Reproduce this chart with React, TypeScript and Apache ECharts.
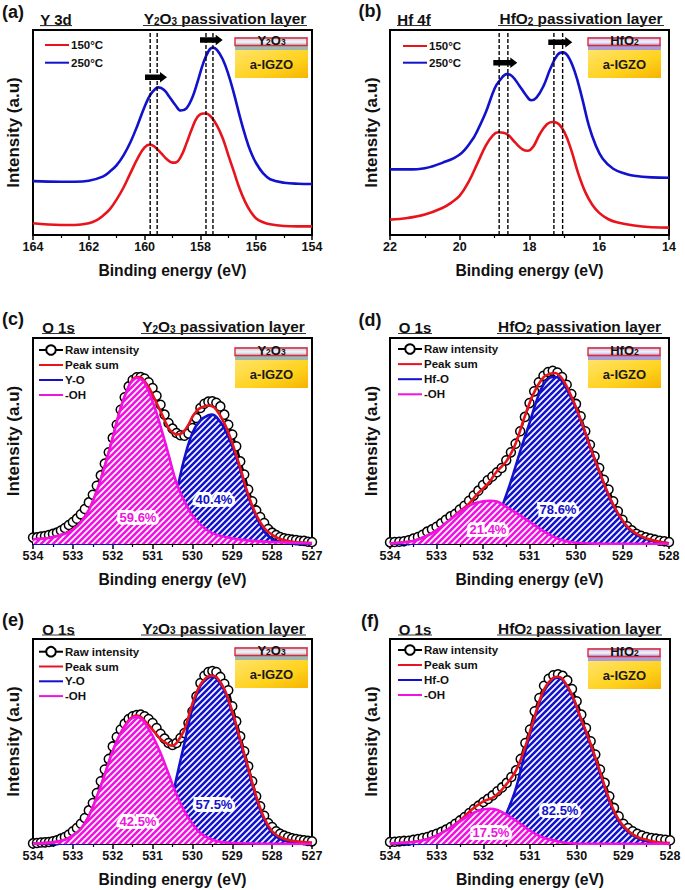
import React, { useEffect, useRef } from "react";
import * as echarts from "echarts";

const FONT = "Liberation Sans";
const RED = "#e8141c";
const BLUE = "#1212cc";
const MAGENTA = "#f012e0";

// Panel (a) Y 3d
const aBlue = [[164,26.3],[163,26.0],[162.5,26.0],[162,26.5],[161.5,28.5],[161.25,30.9],[161,34.1],[160.75,39.0],[160.5,45.5],[160.25,53.7],[160,62.6],[159.8,68.3],[159.6,71.5],[159.5,72.0],[159.3,70.7],[159.1,67.2],[158.9,63.4],[158.7,60.7],[158.5,61.8],[158.3,66.7],[158.1,74.8],[157.9,83.7],[157.7,89.9],[157.55,91.4],[157.4,90.2],[157.2,85.7],[157,78.5],[156.8,69.1],[156.6,58.5],[156.4,48.8],[156.2,40.7],[156,35.0],[155.75,30.1],[155.5,27.2],[155,25.5],[154.5,25.0],[154,24.9]];
const aRed = [[164,5.7],[163,4.9],[162.5,4.9],[162,5.7],[161.75,7.0],[161.5,9.3],[161.25,12.5],[161,17.4],[160.75,23.3],[160.5,30.4],[160.25,37.4],[160,42.8],[159.8,44.1],[159.6,42.6],[159.4,39.8],[159.2,36.9],[159,35.3],[158.9,35.3],[158.7,38.2],[158.5,44.7],[158.3,52.0],[158.1,57.7],[157.9,59.3],[157.8,59.3],[157.6,57.4],[157.4,53.2],[157.2,47.2],[157,39.0],[156.8,30.9],[156.6,22.8],[156.4,16.3],[156.2,11.4],[156,8.1],[155.75,6.2],[155.5,5.2],[155,4.4],[154.5,4.2],[154,4.2]];
const aDashes = [159.8, 159.55, 157.8, 157.55];

// Panel (b) Hf 4f
const bBlue = [[22,32.0],[21.5,32.0],[21,32.6],[20.5,35.2],[20,39.3],[19.65,46.2],[19.5,50.7],[19.25,60.0],[19,71.5],[18.85,75.5],[18.65,78.5],[18.5,77.5],[18.3,73.1],[18.1,68.2],[17.95,65.7],[17.8,67.0],[17.6,72.6],[17.4,81.2],[17.2,87.8],[17.05,89.1],[16.9,87.3],[16.7,79.6],[16.5,67.4],[16.3,53.5],[16.1,43.7],[15.9,37.2],[15.6,32.3],[15.25,29.9],[15,28.9],[14.5,28.1],[14,27.9]];
const bRed = [[22,7.5],[21.5,8.3],[21,10.0],[20.5,13.2],[20.25,15.7],[20,19.2],[19.75,25.8],[19.5,34.7],[19.25,43.7],[19.05,48.6],[18.9,50.1],[18.75,49.9],[18.6,48.6],[18.4,44.9],[18.2,41.8],[18.05,41.1],[17.9,42.9],[17.7,49.4],[17.5,54.0],[17.35,55.1],[17.2,54.6],[17,50.2],[16.8,41.3],[16.6,29.9],[16.4,20.9],[16.2,14.8],[16,10.8],[15.75,7.8],[15.5,6.2],[15,4.6],[14.5,3.8],[14,3.6]];
const bDashes = [18.87, 18.62, 17.3, 17.05];

// Shared energy grids of the raw O 1s scans
const rawEnergies7 = [534,533.9,533.8,533.7,533.6,533.5,533.4,533.3,533.2,533.1,533,532.9,532.8,532.7,532.6,532.5,532.4,532.3,532.2,532.1,532,531.9,531.8,531.7,531.6,531.5,531.4,531.3,531.2,531.1,531,530.9,530.8,530.7,530.6,530.5,530.4,530.3,530.2,530.1,530,529.9,529.8,529.7,529.6,529.5,529.4,529.3,529.2,529.1,529,528.9,528.8,528.7,528.6,528.5,528.4,528.3,528.2,528.1,528,527.9,527.8,527.7,527.6,527.5,527.4,527.3,527.2,527.1,527];
const rawEnergies6 = rawEnergies7.slice(0, 61);

// Panel (c)
const cRaw = [3.1,3.2,3.6,3.9,4.4,4.9,5.5,6.5,7.8,9.2,10.7,12.3,14.4,17.0,20.2,23.9,28.3,33.3,39.0,44.5,51.5,57.9,65.2,71.2,76.5,79.6,80.9,81.1,80.3,78.5,75.7,72.0,67.6,62.8,58.7,56.0,53.9,52.8,52.6,53.6,56.3,61.2,66.0,68.1,69.1,69.3,68.6,66.8,62.8,57.9,53.1,47.4,40.1,33.7,26.4,20.7,16.3,13.1,10.2,7.3,5.5,4.4,3.4,2.8,2.4,2.1,1.9,1.6,1.5,1.1,1.0];
const cSum = [[534,2.3],[533.6,2.9],[533.2,5.0],[533,7.0],[532.8,10.5],[532.6,16.3],[532.4,25.6],[532.2,37.7],[532,51.5],[531.8,66.0],[531.6,76.3],[531.5,79.8],[531.4,81.1],[531.3,80.9],[531.2,79.0],[531.1,76.2],[531,72.5],[530.8,64.4],[530.6,56.3],[530.5,54.2],[530.4,53.2],[530.3,53.4],[530.2,55.0],[530.1,57.9],[530,61.7],[529.9,64.4],[529.8,66.0],[529.6,67.2],[529.5,66.8],[529.4,65.2],[529.2,58.7],[529,49.0],[528.8,36.9],[528.6,23.9],[528.4,14.2],[528.2,7.8],[528,4.4],[527.8,2.4],[527.5,1.1],[527,0.5]];
const cMetal = [[534,0.1],[532,0.2],[531.5,0.5],[531,1.3],[530.8,5.3],[530.6,13.4],[530.4,25.6],[530.2,41.7],[530,53.9],[529.8,60.0],[529.6,62.5],[529.5,62.8],[529.4,61.7],[529.2,56.3],[529,47.4],[528.8,36.2],[528.6,23.1],[528.4,13.4],[528.2,6.1],[528,2.4],[527.8,0.8],[527.5,0.3],[527,0.2]];
const cOH = [[534,2.3],[533.6,2.9],[533.2,5.0],[533,7.0],[532.8,10.5],[532.6,16.3],[532.4,25.6],[532.2,37.7],[532,51.5],[531.8,66.0],[531.6,76.5],[531.5,79.4],[531.4,80.6],[531.3,80.1],[531.2,78.2],[531,69.3],[530.8,57.1],[530.6,43.4],[530.4,29.6],[530.2,20.7],[530,13.8],[529.8,9.4],[529.5,5.3],[529,2.8],[528.5,1.6],[528,1.0],[527.5,0.6],[527,0.3]];

// Panel (d)
const dRaw = [0.8,1.0,1.1,1.3,1.8,2.6,3.4,4.5,6.0,7.1,8.4,10.0,11.8,13.4,14.6,16.7,18.6,21.0,23.5,25.9,28.6,30.9,32.8,34.8,36.9,40.6,44.5,48.7,54.7,61.7,68.4,74.1,78.5,81.7,83.5,84.1,83.2,81.1,77.3,72.8,68.0,62.0,54.7,48.2,42.6,36.9,31.2,26.4,20.7,15.9,11.8,8.6,6.6,5.0,4.0,3.2,2.6,2.1,1.6,1.3,1.0];
const dSum = [[534,0.3],[533.5,1.5],[533.2,4.0],[533,6.6],[532.75,11.0],[532.5,15.9],[532.3,19.6],[532.1,24.8],[531.9,29.1],[531.7,35.3],[531.5,40.1],[531.3,48.7],[531.1,62.0],[530.9,73.6],[530.7,80.9],[530.55,82.7],[530.45,83.0],[530.3,80.3],[530.1,71.7],[529.9,60.4],[529.7,47.4],[529.5,35.3],[529.3,23.9],[529.1,15.0],[528.9,8.6],[528.7,5.0],[528.5,2.8],[528.25,1.3],[528,0.3]];
const dMetal = [[534,0.1],[532,1.3],[531.9,4.5],[531.8,7.8],[531.7,11.8],[531.6,17.5],[531.4,30.4],[531.2,45.0],[531,58.7],[530.8,72.5],[530.65,79.0],[530.5,81.1],[530.4,80.9],[530.3,79.0],[530.1,70.9],[529.9,60.1],[529.7,47.4],[529.5,35.3],[529.3,23.6],[529.1,14.6],[528.9,8.1],[528.7,4.4],[528.5,2.4],[528.25,1.0],[528,0.3]];
const dOH = [[534,0.3],[533.5,1.5],[533.2,4.0],[533,6.6],[532.75,11.0],[532.5,15.5],[532.25,19.1],[532,20.7],[531.85,21.0],[531.7,20.6],[531.5,18.0],[531.25,14.6],[531,10.8],[530.75,7.0],[530.5,3.7],[530.25,1.6],[530,0.6],[529.5,0.2],[528,0.1]];

// Panel (e)
const eRaw = [0.3,0.5,0.7,0.8,1.0,1.3,1.8,2.6,3.4,4.6,6.2,7.8,9.9,12.7,16.4,20.0,24.9,30.6,36.3,41.5,47.6,52.2,55.8,58.7,61.0,62.3,62.9,63.1,62.3,61.0,59.0,56.6,53.8,51.4,49.3,48.3,49.3,51.7,54.1,59.0,64.7,72.0,78.5,82.1,83.9,84.4,83.9,81.5,78.2,75.0,67.2,59.8,52.5,45.2,37.9,30.6,23.3,18.4,13.8,10.2,8.3,6.2,5.0,4.1,3.4,2.8,2.4,2.1,1.8,1.5,1.3];
const eSum = [[534,0.2],[533.5,0.8],[533.2,2.1],[533,4.1],[532.8,7.3],[532.6,13.5],[532.4,22.9],[532.2,33.8],[532,45.2],[531.8,54.1],[531.6,60.3],[531.5,62.0],[531.4,62.6],[531.3,62.0],[531.2,60.2],[531,55.8],[530.8,51.2],[530.6,48.5],[530.5,48.0],[530.4,49.3],[530.2,55.8],[530,68.5],[529.8,77.7],[529.6,81.8],[529.5,82.1],[529.4,81.5],[529.2,75.6],[529,64.7],[528.8,50.9],[528.6,37.1],[528.4,23.3],[528.2,12.7],[528,6.2],[527.8,3.3],[527.5,1.6],[527,0.7]];
const eMetal = [[534,0.0],[531.2,1.3],[531,2.9],[530.8,5.4],[530.6,16.7],[530.5,23.3],[530.4,32.2],[530.2,49.3],[530,66.3],[529.8,77.2],[529.6,81.1],[529.5,81.6],[529.4,80.8],[529.2,74.9],[529,63.9],[528.8,50.1],[528.6,36.3],[528.4,22.4],[528.2,11.9],[528,5.4],[527.8,2.4],[527.5,0.8],[527,0.3]];
const eOH = [[534,0.2],[533.5,0.8],[533.2,2.1],[533,4.1],[532.8,7.3],[532.6,13.5],[532.4,22.9],[532.2,33.8],[532,45.2],[531.8,54.1],[531.6,59.8],[531.5,61.5],[531.4,62.0],[531.3,61.3],[531.2,59.3],[531,52.8],[530.8,44.4],[530.6,34.3],[530.4,24.1],[530.2,15.9],[530,9.9],[529.8,5.4],[529.5,2.1],[529.2,0.8],[529,0.5],[528,0.1],[527,0.0]];

// Panel (f)
const fRaw = [1.0,1.1,1.3,1.5,1.6,2.0,2.4,2.9,3.4,4.2,5.0,5.9,7.0,8.3,9.9,11.5,13.2,15.1,17.1,18.7,20.5,22.0,23.7,25.7,27.6,29.8,32.7,35.9,41.5,49.3,55.8,64.7,71.2,77.2,80.6,82.3,82.8,82.0,79.8,75.6,69.6,63.1,56.6,50.1,43.6,36.3,29.8,23.3,17.6,13.5,9.9,7.8,6.2,5.0,4.1,3.4,2.9,2.6,2.3,2.1,1.8];
const fSum = [[534,0.3],[533.5,1.0],[533.25,2.1],[533,4.1],[532.75,7.3],[532.5,11.5],[532.25,16.7],[532,20.8],[531.75,23.3],[531.5,29.3],[531.3,35.9],[531.1,47.6],[530.9,62.3],[530.7,75.3],[530.5,81.1],[530.4,81.6],[530.3,80.5],[530.1,72.8],[529.9,60.7],[529.7,48.8],[529.5,35.4],[529.3,21.6],[529.1,11.9],[528.9,6.5],[528.7,3.4],[528.5,2.0],[528.25,0.8],[528,0.5]];
const fMetal = [[534,0.0],[532,1.3],[531.7,6.2],[531.6,10.6],[531.5,15.1],[531.3,27.3],[531.1,45.2],[530.9,61.5],[530.7,74.5],[530.5,80.5],[530.4,81.1],[530.3,80.0],[530.1,72.4],[529.9,60.4],[529.7,48.1],[529.5,34.6],[529.3,20.8],[529.1,11.1],[528.9,5.9],[528.7,2.9],[528.5,1.5],[528.25,0.5],[528,0.2]];
const fOH = [[534,0.3],[533.5,1.0],[533.25,2.1],[533,4.1],[532.75,7.3],[532.5,11.0],[532.25,14.8],[532,16.9],[531.85,17.2],[531.7,16.6],[531.5,14.3],[531.25,10.6],[531,6.5],[530.75,3.4],[530.5,1.8],[530.25,0.6],[530,0.2],[528,0.1]];

function hatch(color: string) {
  const s = 6;
  const k = 4;
  const c = document.createElement("canvas");
  c.width = s * k;
  c.height = s * k;
  const g = c.getContext("2d")!;
  g.scale(k, k);
  g.fillStyle = color;
  g.fillRect(0, 0, s, s);
  g.strokeStyle = "#ffffff";
  g.lineWidth = 1.7;
  for (const o of [-s, 0, s]) {
    g.beginPath();
    g.moveTo(o - 1, s + 1);
    g.lineTo(o + s + 1, -1);
    g.stroke();
  }
  return { image: c, repeat: "repeat", imageWidth: s * k, imageHeight: s * k, scaleX: 1 / k, scaleY: 1 / k, x: 0, y: 0 };
}

type Box = { l: number; r: number; t: number; b: number };

const boxA: Box = { l: 33, r: 312, t: 30, b: 235 };
const boxB: Box = { l: 390, r: 669, t: 30, b: 235 };
const boxC: Box = { l: 33, r: 312, t: 338, b: 544 };
const boxD: Box = { l: 390, r: 669, t: 338, b: 544 };
const boxE: Box = { l: 33, r: 312, t: 639, b: 844 };
const boxF: Box = { l: 390, r: 670, t: 639, b: 844 };

const boldText = (text: string, x: number, y: number, size: number, extra: any = {}) => ({
  type: "text",
  z: 50,
  x,
  y,
  style: {
    text,
    fontFamily: FONT,
    fontWeight: "bold",
    fontSize: size,
    fill: "#111",
    align: "left",
    verticalAlign: "middle",
    ...extra,
  },
});

const subRich = {
  b: { fontFamily: FONT, fontWeight: "bold", fontSize: 15.4, lineHeight: 20, fill: "#111", verticalAlign: "bottom" },
  s: { fontFamily: FONT, fontWeight: "bold", fontSize: 10, lineHeight: 9, fill: "#111", verticalAlign: "bottom" },
};

function header(letter: string, lx: number, ly: number, elem: string, ex0: number, ex1: number, oxide: string, tx0: number, tx1: number, y: number) {
  return [
    boldText(letter, lx, ly, 18, { align: "center" }),
    boldText(elem, (ex0 + ex1) / 2, y, 15, { align: "center" }),
    { type: "rect", z: 50, shape: { x: ex0, y: y + 5.5, width: ex1 - ex0, height: 1.1 }, style: { fill: "#333" } },
    {
      type: "text",
      z: 50,
      x: (tx0 + tx1) / 2,
      y: y - 3.5,
      style: { text: oxide, rich: subRich, align: "center", verticalAlign: "middle", fontFamily: FONT, fontWeight: "bold", fontSize: 15 },
    },
    { type: "rect", z: 50, shape: { x: tx0, y: y + 5.5, width: tx1 - tx0, height: 1.1 }, style: { fill: "#333" } },
  ];
}

function inset(x: number, y: number, oxide: string, top: string, band: string) {
  const w = 71;
  const h = 41;
  return [
    {
      type: "rect",
      z: 40,
      shape: { x, y: y + 13, width: w + 2, height: h - 13 },
      style: {
        fill: {
          type: "linear", x: 0, y: 0, x2: 1, y2: 1,
          colorStops: [
            { offset: 0, color: "#ffe36a" },
            { offset: 0.6, color: "#ffd21e" },
            { offset: 1, color: "#f5b400" },
          ],
        },
      },
    },
    { type: "rect", z: 40, shape: { x, y: y + 8, width: w + 2, height: 5 }, style: { fill: band } },
    {
      type: "rect",
      z: 40,
      shape: { x, y, width: w + 2, height: 8 },
      style: {
        fill: {
          type: "linear", x: 0, y: 0, x2: 0, y2: 1,
          colorStops: [
            { offset: 0, color: top },
            { offset: 0.6, color: "#f4f4fa" },
            { offset: 1, color: top },
          ],
        },
      },
    },
    {
      type: "rect",
      z: 41,
      shape: { x, y: y + 1, width: w + 1, height: 7.5 },
      style: { fill: "none", stroke: "#dc2a3c", lineWidth: 1.4 },
    },
    {
      type: "text",
      z: 42,
      x: x + w / 2 + 1,
      y: y + 1.5,
      style: {
        text: oxide,
        rich: {
          b: { fontFamily: FONT, fontWeight: "bold", fontSize: 13, lineHeight: 16, fill: "#111", verticalAlign: "bottom" },
          s: { fontFamily: FONT, fontWeight: "bold", fontSize: 8.5, lineHeight: 7, fill: "#111", verticalAlign: "bottom" },
        },
        align: "center",
        verticalAlign: "middle",
        fontFamily: FONT,
      },
    },
    boldText("a-IGZO", x + w / 2 + 1, y + 27.5, 13, { align: "center", fill: "#1a1a1a", fontWeight: "bold" }),
  ];
}

function arrow(x0: number, x1: number, y: number) {
  const sh = 2.8;
  const hh = 5.2;
  const hl = 7;
  return {
    type: "polygon",
    z: 30,
    shape: {
      points: [
        [x0, y - sh], [x1 - hl, y - sh], [x1 - hl, y - hh], [x1, y], [x1 - hl, y + hh], [x1 - hl, y + sh], [x0, y + sh],
      ],
    },
    style: { fill: "#000" },
  };
}

function percent(text: string, x: number, y: number, color: string) {
  return {
    type: "text",
    z: 45,
    x,
    y,
    style: {
      text,
      fontFamily: FONT,
      fontWeight: "bold",
      fontSize: 13,
      fill: color,
      stroke: "#ffffff",
      lineWidth: 6,
      align: "center",
      verticalAlign: "middle",
      shadowColor: "#ffffff",
      shadowBlur: 8,
    },
  };
}

function axes(box: Box, min: number, max: number, idx: number, nameGapY: number) {
  return {
    grid: {
      left: box.l,
      top: box.t,
      width: box.r - box.l,
      height: box.b - box.t,
      show: true,
      borderColor: "#000",
      borderWidth: 2,
      backgroundColor: "transparent",
    },
    x: {
      type: "value",
      gridIndex: idx,
      inverse: true,
      min,
      max,
      interval: max < 100 || max - min > 8 ? 2 : 1,
      name: "Binding energy (eV)",
      nameLocation: "middle",
      nameGap: 27,
      nameTextStyle: { fontFamily: FONT, fontWeight: "bold", fontSize: 15.7, color: "#111" },
      splitLine: { show: false },
      axisLine: { show: true, onZero: false, lineStyle: { color: "#000", width: 2 } },
      axisTick: { show: true, inside: false, length: 5, lineStyle: { color: "#000", width: 1.5 } },
      minorTick: { show: true, splitNumber: 2, length: 3, lineStyle: { color: "#000", width: 1.2 } },
      axisLabel: { fontFamily: FONT, fontWeight: "bold", fontSize: 12.5, color: "#111", margin: 5, hideOverlap: false, showMinLabel: true, showMaxLabel: true },
    },
    y: {
      type: "value",
      gridIndex: idx,
      min: 0,
      max: 100,
      name: "Intensity (a.u)",
      nameLocation: "middle",
      nameGap: nameGapY,
      nameTextStyle: { fontFamily: FONT, fontWeight: "bold", fontSize: 17, color: "#111" },
      splitLine: { show: false },
      axisLine: { show: true, lineStyle: { color: "#000", width: 2 } },
      axisTick: { show: false },
      axisLabel: { show: false },
    },
  };
}

const lineS = (name: string, data: any, color: string, idx: number, z: number) => ({
  type: "line",
  name,
  data,
  xAxisIndex: idx,
  yAxisIndex: idx,
  smooth: 0.4,
  symbol: "none",
  z,
  silent: true,
  lineStyle: { color, width: 2.6 },
  itemStyle: { color },
});

const dashS = (x: number, idx: number) => ({
  type: "line",
  name: "dash" + idx + x,
  data: [[x, 0], [x, 100]],
  xAxisIndex: idx,
  yAxisIndex: idx,
  symbol: "none",
  z: 4,
  silent: true,
  lineStyle: { color: "#000", width: 1.4, type: [4, 2] },
});

function xpsSeries(idx: number, raw: number[], energies: number[], sum: any, metal: any, oh: any, metalName: string) {
  const rawPts = raw.map((v, i) => [energies[i], v]);
  return [
    {
      type: "line",
      name: "Raw intensity",
      data: rawPts,
      xAxisIndex: idx,
      yAxisIndex: idx,
      z: 1,
      silent: true,
      clip: true,
      symbol: "circle",
      symbolSize: 9,
      showSymbol: true,
      showAllSymbol: true,
      lineStyle: { color: "#000", width: 2.4 },
      itemStyle: { color: "#fff", borderColor: "#000", borderWidth: 1.5 },
    },
    { ...lineS(metalName, metal, BLUE, idx, 2), areaStyle: { color: hatch(BLUE), opacity: 1 } },
    lineS("Peak sum", sum, RED, idx, 3),
    { ...lineS("-OH", oh, MAGENTA, idx, 4), areaStyle: { color: hatch(MAGENTA), opacity: 1 } },
  ];
}

const noMark = { color: "transparent", borderColor: "transparent", borderWidth: 0 };

function legendOf(names: string[], left: number, top: number, gap: number) {
  return {
    left,
    top,
    padding: 0,
    orient: "vertical",
    data: names.map((name) => (name === "Raw intensity" ? { name } : { name, itemStyle: noMark })),
    itemWidth: 24,
    itemHeight: 12,
    itemGap: gap,
    selectedMode: false,
    textStyle: { fontFamily: FONT, fontWeight: "bold", fontSize: 11.5, color: "#111", padding: [0, 0, 0, -3] },
  };
}

export default function App() {
  const ref = useRef<HTMLDivElement>(null);
  useEffect(() => {
    const chart = echarts.init(ref.current!, undefined, { renderer: "svg" });
    const panelAxes = [
      axes(boxA, 154, 164, 0, 11),
      axes(boxB, 14, 22, 1, 10),
      axes(boxC, 527, 534, 2, 11),
      axes(boxD, 528, 534, 3, 10),
      axes(boxE, 527, 534, 4, 11),
      axes(boxF, 528, 534, 5, 10),
    ];
    const Y2O3 = "{b|Y}{s|2}{b|O}{s|3}{b| passivation layer}";
    const HfO2 = "{b|HfO}{s|2}{b| passivation layer}";
    const Y2O3i = "{b|Y}{s|2}{b|O}{s|3}";
    const HfO2i = "{b|HfO}{s|2}";
    const yTop = "#b9c4cc", yBand = "#9db8b0", hTop = "#b8aee0", hBand = "#a99cd8";
    const graphicElements: any[] = [
      ...header("(a)", 13, 12, "Y 3d", 40, 72, Y2O3, 143, 307, 19.5),
      ...header("(b)", 370, 11, "Hf 4f", 397, 431, HfO2, 498, 664, 19.5),
      ...header("(c)", 13, 319, "O 1s", 42, 75, Y2O3, 141, 306, 327.5),
      ...header("(d)", 370, 320, "O 1s", 398, 432, HfO2, 497, 662, 327.5),
      ...header("(e)", 13, 620, "O 1s", 42, 75, Y2O3, 141, 306, 629),
      ...header("(f)", 370, 621, "O 1s", 398, 432, HfO2, 497, 662, 629),
      ...inset(235, 37, Y2O3i, yTop, yBand),
      ...inset(588, 37, HfO2i, hTop, hBand),
      ...inset(235, 347, Y2O3i, yTop, yBand),
      ...inset(588, 347, HfO2i, hTop, hBand),
      ...inset(235, 647, Y2O3i, yTop, yBand),
      ...inset(588, 648, HfO2i, hTop, hBand),
      arrow(145, 167, 77.3),
      arrow(200, 222.7, 40),
      arrow(493.3, 517.3, 62.7),
      arrow(548.3, 572.3, 42.3),
      percent("59.6%", 138, 517, MAGENTA),
      percent("40.4%", 214, 499, BLUE),
      percent("21.4%", 488, 529, MAGENTA),
      percent("78.6%", 558, 509, BLUE),
      percent("42.5%", 138, 821, MAGENTA),
      percent("57.5%", 214, 804, BLUE),
      percent("17.5%", 491, 832, MAGENTA),
      percent("82.5%", 560, 810, BLUE),
    ];
    chart.setOption({
      animation: false,
      backgroundColor: "#fff",
      textStyle: { fontFamily: FONT },
      grid: panelAxes.map((p) => p.grid),
      xAxis: panelAxes.map((p) => p.x),
      yAxis: panelAxes.map((p) => p.y),
      legend: [
        legendOf(["150°C", "250°C"], 44, 39, 5.7),
        legendOf(["150°C", "250°C"], 402, 40, 4.7),
        legendOf(["Raw intensity", "Peak sum", "Y-O", "-OH"], 38, 344, 3),
        legendOf(["Raw intensity", "Peak sum", "Hf-O", "-OH"], 397, 343, 3.1),
        legendOf(["Raw intensity", "Peak sum", "Y-O", "-OH"], 38, 645.7, 2.8),
        legendOf(["Raw intensity", "Peak sum", "Hf-O", "-OH"], 397, 644, 3),
      ],
      series: [
        lineS("150°C", aRed, RED, 0, 3),
        lineS("250°C", aBlue, BLUE, 0, 3),
        ...aDashes.map((x) => dashS(x, 0)),
        lineS("150°C", bRed, RED, 1, 3),
        lineS("250°C", bBlue, BLUE, 1, 3),
        ...bDashes.map((x) => dashS(x, 1)),
        ...xpsSeries(2, cRaw, rawEnergies7, cSum, cMetal, cOH, "Y-O"),
        ...xpsSeries(3, dRaw, rawEnergies6, dSum, dMetal, dOH, "Hf-O"),
        ...xpsSeries(4, eRaw, rawEnergies7, eSum, eMetal, eOH, "Y-O"),
        ...xpsSeries(5, fRaw, rawEnergies6, fSum, fMetal, fOH, "Hf-O"),
      ],
      graphic: { elements: graphicElements },
    });
    return () => chart.dispose();
  }, []);
  return <div ref={ref} style={{ position: "absolute", left: 0, top: 0, width: 685, height: 890 }} />;
}
